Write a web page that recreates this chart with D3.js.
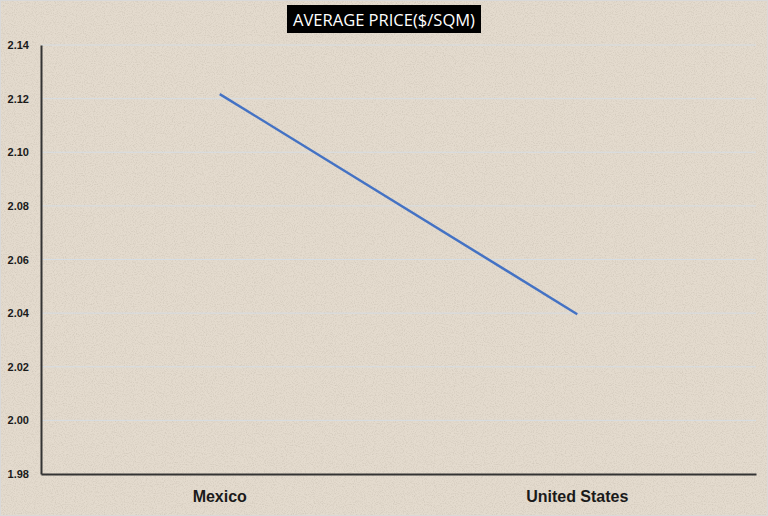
<!DOCTYPE html>
<html>
<head>
<meta charset="utf-8">
<script src="https://cdnjs.cloudflare.com/ajax/libs/d3/7.8.5/d3.min.js"></script>
<style>
  html, body { margin: 0; padding: 0; background: #d9d9d9; }
  #chart { width: 768px; height: 516px; }
</style>
</head>
<body>
<div id="chart"></div>
<script>
const categories = ["Mexico", "United States"];
const prices = [2.1217, 2.0396];
const yTicks = [1.98, 2.00, 2.02, 2.04, 2.06, 2.08, 2.10, 2.12, 2.14];

const width = 768;
const height = 516;
const margin = {top: 45, right: 12, bottom: 42, left: 41};

const svg = d3.select("#chart").append("svg")
    .attr("width", width)
    .attr("height", height)
    .style("font-family", "'Open Sans', 'Noto Sans', sans-serif");

// paper texture
const defs = svg.append("defs");
const noise = defs.append("filter").attr("id", "grain")
    .attr("x", 0).attr("y", 0).attr("width", "100%").attr("height", "100%");
noise.append("feTurbulence")
    .attr("type", "fractalNoise")
    .attr("baseFrequency", 0.9)
    .attr("numOctaves", 2)
    .attr("seed", 3)
    .attr("result", "n");
noise.append("feColorMatrix")
    .attr("type", "matrix")
    .attr("values", "0 0 0 0 0.45  0 0 0 0 0.40  0 0 0 0 0.33  0 0 0 -2.2 1.25");

svg.append("rect")
    .attr("x", 1).attr("y", 1)
    .attr("width", width - 2).attr("height", height - 2)
    .attr("fill", "#e4dbce");
svg.append("rect")
    .attr("x", 1).attr("y", 1)
    .attr("width", width - 2).attr("height", height - 2)
    .attr("filter", "url(#grain)")
    .attr("opacity", 0.35);

const x = d3.scaleBand()
    .domain(categories)
    .range([margin.left, width - margin.right]);

const y = d3.scaleLinear()
    .domain([1.98, 2.14])
    .range([height - margin.bottom, margin.top]);

// grid
svg.append("g")
    .selectAll("line")
    .data(yTicks.slice(1))
    .join("line")
    .attr("x1", margin.left)
    .attr("x2", width - margin.right)
    .attr("y1", d => y(d))
    .attr("y2", d => y(d))
    .attr("stroke", "#d6dde3")
    .attr("stroke-width", 1);

// y axis
const yAxis = svg.append("g")
    .attr("transform", `translate(${margin.left},0)`)
    .call(d3.axisLeft(y).tickValues(yTicks).tickFormat(d3.format(".2f")).tickSize(0).tickPadding(12));
yAxis.select(".domain").attr("stroke", "#333").attr("stroke-width", 2);
yAxis.selectAll("text")
    .attr("fill", "#1a1a1a")
    .style("font-size", "11px")
    .style("font-weight", "bold");

// x axis
const xAxis = svg.append("g")
    .attr("transform", `translate(0,${height - margin.bottom})`)
    .call(d3.axisBottom(x).tickSize(0).tickPadding(17));
xAxis.select(".domain").attr("stroke", "#333").attr("stroke-width", 2);
xAxis.selectAll("text")
    .attr("fill", "#1a1a1a")
    .style("font-size", "16px")
    .style("font-weight", "bold");

// line
const line = d3.line()
    .x((d, i) => x(categories[i]) + x.bandwidth() / 2)
    .y(d => y(d));

svg.append("path")
    .datum(prices)
    .attr("fill", "none")
    .attr("stroke", "#4472c4")
    .attr("stroke-width", 2.5)
    .attr("d", line);

// title
const title = svg.append("g");
title.append("rect")
    .attr("x", 287).attr("y", 5)
    .attr("width", 194).attr("height", 28)
    .attr("fill", "#000");
title.append("text")
    .attr("x", 384).attr("y", 25.5)
    .attr("text-anchor", "middle")
    .attr("fill", "#fff")
    .style("font-size", "16.5px")
    .attr("textLength", 182)
    .attr("lengthAdjust", "spacingAndGlyphs")
    .text("AVERAGE PRICE($/SQM)");
</script>
</body>
</html>
